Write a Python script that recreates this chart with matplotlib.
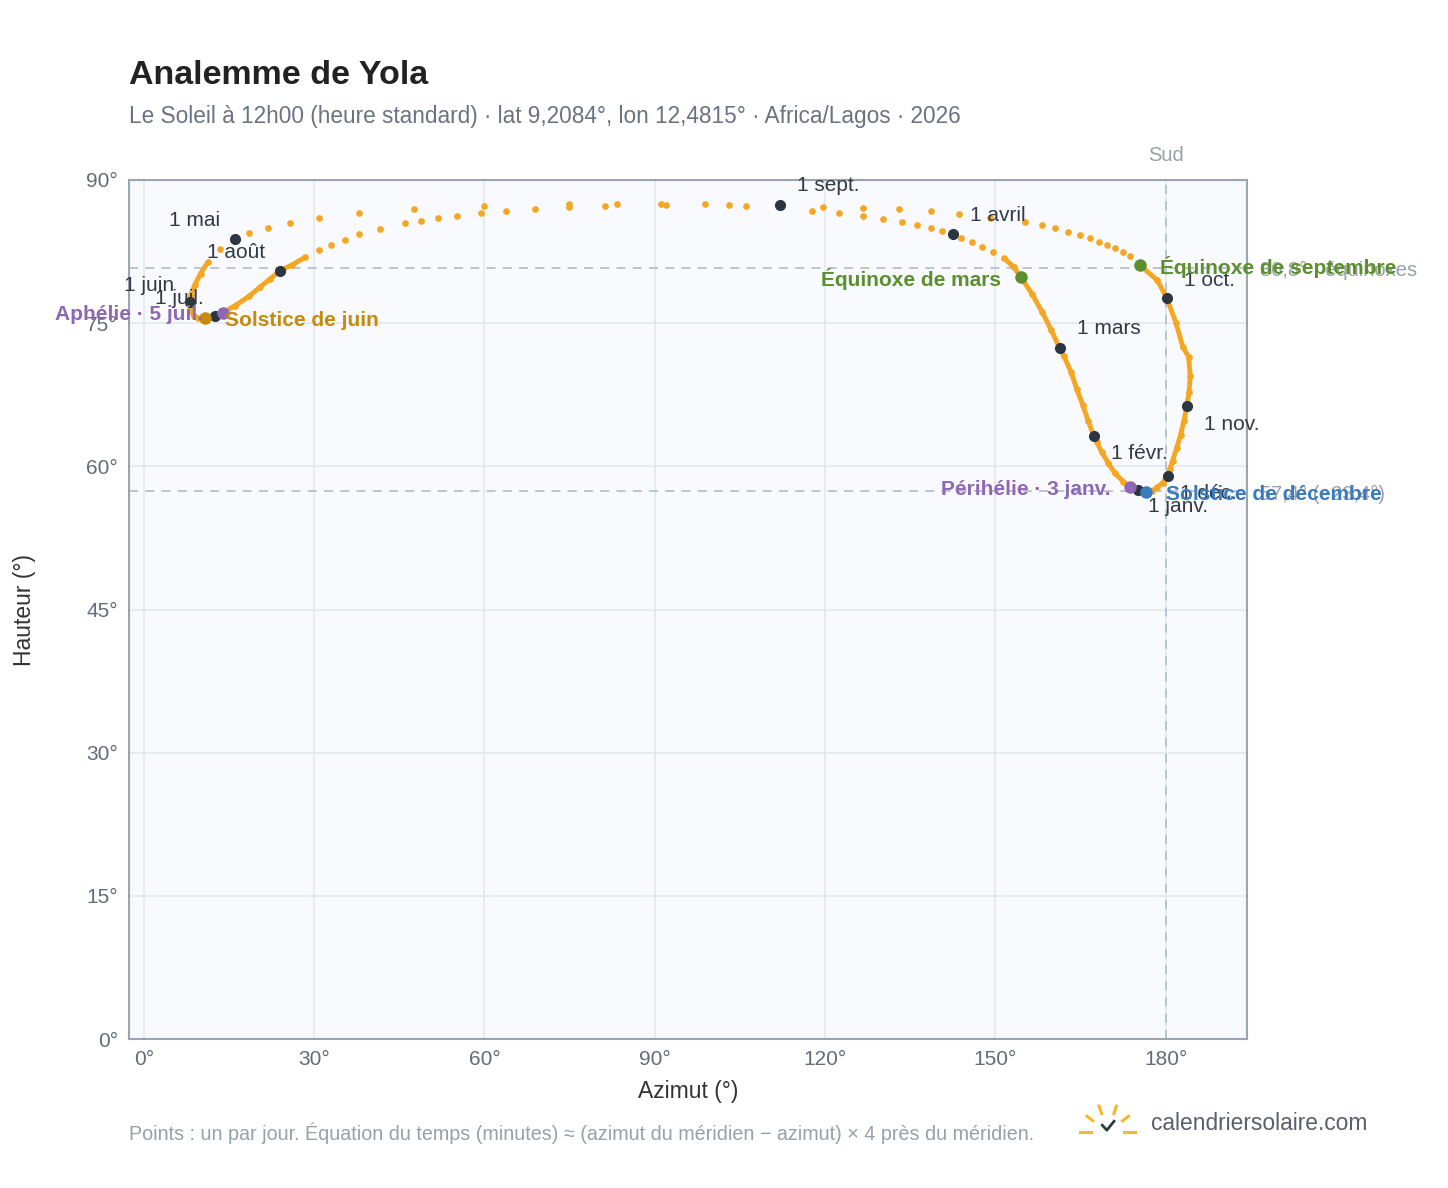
import matplotlib
matplotlib.use("Agg")
import matplotlib.pyplot as plt
import numpy as np

plt.rcParams['font.family'] = ['Liberation Sans', 'DejaVu Sans']

# Sun positions (azimuth, altitude), in date order from Jan 1 to Dec 31
azimuth = [175.1, 173.7, 172.5, 171.0, 169.8, 168.7, 167.8, 167.3, 166.3, 165.4, 164.3, 163.3, 162.0,
           161.3, 159.8, 158.2, 156.4, 154.5,
           153.2, 151.5, 149.5, 147.7, 145.8, 143.9, 142.5, 140.5, 138.6, 136.1, 133.5, 130.2, 126.6,
           122.4, 117.6, 106.0, 98.8, 91.1, 83.3, 74.9, 59.9, 47.6, 37.9, 30.8, 25.7, 21.8, 18.5,
           16.0, 13.5, 11.3, 10.0, 9.0, 8.3, 8.1, 8.2, 8.8, 9.6, 10.7, 11.7, 12.5, 13.9,
           16.0, 18.5, 20.5, 22.2, 24.0,
           26.1, 28.4, 30.8, 32.9, 35.4, 37.9, 41.6, 46.0, 48.8, 51.8, 55.1, 59.4, 63.8, 68.9, 74.9,
           81.2, 92.0, 103.0, 112.0,
           119.6, 126.6, 133.0, 138.6, 143.5, 149.0, 155.2, 158.2, 160.4, 162.7, 164.8, 166.6, 168.2,
           169.6, 171.0, 172.4, 173.7, 175.4,
           178.5, 180.2, 181.8, 183.0, 184.0, 184.3, 184.1, 183.7, 183.2,
           182.6, 181.9, 181.2, 180.7, 180.3, 179.5, 178.5, 177.5, 176.5, 175.8, 175.2]
altitude = [57.5, 57.8, 58.4, 59.3, 60.4, 61.5, 62.6, 63.2, 64.8, 66.4, 68.1, 69.9, 71.6,
            72.4, 74.3, 76.2, 78.1, 79.8,
            80.9, 81.8, 82.5, 83.0, 83.5, 83.9, 84.3, 84.7, 85.0, 85.3, 85.6, 85.9, 86.2,
            86.5, 86.8, 87.3, 87.5, 87.5, 87.5, 87.5, 87.3, 87.0, 86.5, 86.0, 85.5, 85.0, 84.4,
            83.8, 82.8, 81.4, 80.2, 79.0, 78.0, 77.2, 76.4, 75.8, 75.5, 75.5, 75.6, 75.8, 76.1,
            76.8, 77.8, 78.8, 79.6, 80.5,
            81.1, 81.9, 82.7, 83.2, 83.7, 84.3, 84.9, 85.5, 85.7, 86.0, 86.2, 86.5, 86.7, 87.0, 87.2,
            87.3, 87.4, 87.4, 87.4,
            87.2, 87.1, 87.0, 86.7, 86.4, 86.0, 85.6, 85.3, 85.0, 84.6, 84.2, 83.9, 83.5,
            83.2, 82.9, 82.5, 82.0, 81.1,
            79.5, 77.6, 75.0, 72.5, 71.5, 69.5, 67.8, 66.3, 64.8,
            63.3, 61.9, 60.6, 59.7, 59.0, 58.3, 57.8, 57.4, 57.3, 57.3, 57.5]

month_labels = ["1 janv.", "1 févr.", "1 mars", "1 avril", "1 mai", "1 juin", "1 juil.",
                "1 août", "1 sept.", "1 oct.", "1 nov.", "1 déc."]
month_az = [175.1, 167.3, 161.3, 142.5, 16.0, 8.1, 12.5, 24.0, 112.0, 180.2, 183.7, 180.3]
month_alt = [57.5, 63.2, 72.4, 84.3, 83.8, 77.2, 75.8, 80.5, 87.4, 77.6, 66.3, 59.0]
month_off = [(10, -16), (17, -18), (17, 19), (17, 19), (-66, 19), (-66, 17), (-60, 17),
             (-73, 18), (17, 19), (17, 18), (17, -18), (12, -18)]

events = ["Équinoxe de mars", "Équinoxe de septembre", "Solstice de juin", "Solstice de décembre",
          "Aphélie · 5 juil.", "Périhélie · 3 janv."]
event_az = [154.5, 175.4, 10.7, 176.5, 13.9, 173.7]
event_alt = [79.8, 81.1, 75.5, 57.3, 76.1, 57.8]
event_col = ["#5b8f2e", "#5b8f2e", "#c68a0d", "#3a7bc0", "#8e67b5", "#8e67b5"]
event_ha = ["right", "left", "left", "left", "right", "right"]

equinox_alt = 80.8
dec_solstice_alt = 57.4

fig = plt.figure(figsize=(14.48, 11.88), dpi=100)
ax = fig.add_axes([0.0891, 0.1254, 0.7721, 0.7231])
ax.set_facecolor("#f8fafd")
ax.set_xlim(-2.6, 194.3)
ax.set_ylim(0, 90)
ax.set_xticks(range(0, 181, 30))
ax.set_xticklabels([f"{v}°" for v in range(0, 181, 30)])
ax.set_yticks(range(0, 91, 15))
ax.set_yticklabels([f"{v}°" for v in range(0, 91, 15)])
ax.grid(color="#e3e8ee", lw=1.2)
ax.set_axisbelow(True)
for s in ax.spines.values():
    s.set_color("#9aa5b1"); s.set_linewidth(1.5)
ax.tick_params(colors="#666b75", labelsize=15, length=0, pad=8)
ax.set_xlabel("Azimut (°)", fontsize=16.5, color="#333", labelpad=8)
ax.set_ylabel("Hauteur (°)", fontsize=16.5, color="#333", labelpad=36)

ax.axhline(equinox_alt, color="#b7c0c9", ls=(0, (5, 4)), lw=1.3)
ax.axhline(dec_solstice_alt, color="#b7c0c9", ls=(0, (5, 4)), lw=1.3)
ax.axvline(180, color="#b7c0c9", ls=(0, (5, 4)), lw=1.3)
ax.text(180, 91.6, "Sud", ha="center", va="bottom", color="#9aa0a8", fontsize=14.5)
ax.text(196.5, equinox_alt - 0.3, "80,8° · équinoxes", ha="left", va="center", color="#9aa0a8", fontsize=14.5, clip_on=False)
ax.text(196.5, dec_solstice_alt - 0.3, "57,4° (−23,4°)", ha="left", va="center", color="#9aa0a8", fontsize=14.5, clip_on=False)

az = np.array(azimuth); al = np.array(altitude)
dense = al < 82
seg = []
for i in range(len(az)):
    if dense[i]:
        seg.append(i)
    else:
        if len(seg) > 1:
            ax.plot(az[seg], al[seg], color="#f5a623", lw=3.5, solid_capstyle="round", zorder=2)
        seg = []
if len(seg) > 1:
    ax.plot(az[seg], al[seg], color="#f5a623", lw=3.5, zorder=2)
ax.plot(az, al, "o", color="#f5a623", ms=3.8, zorder=3, ls="none")

ax.plot(month_az, month_alt, "o", color="#2d3540", ms=7, zorder=5, ls="none")
for lab, x, y, off in zip(month_labels, month_az, month_alt, month_off):
    ax.annotate(lab, (x, y), xytext=off, textcoords="offset pixels", fontsize=15, color="#333a44",
                ha="left", va="center", zorder=6, annotation_clip=False)

for lab, x, y, c, ha in zip(events, event_az, event_alt, event_col, event_ha):
    ax.plot(x, y, "o", color=c, ms=8, zorder=7)
    dx = 20 if ha == "left" else -20
    ax.annotate(lab, (x, y), xytext=(dx, -2), textcoords="offset pixels", fontsize=15,
                fontweight="bold", color=c, ha=ha, va="center", zorder=8, annotation_clip=False)

fig.text(0.0891, 1 - 84 / 1188, "Analemme de Yola", fontsize=24.5, fontweight="bold", color="#222")
fig.text(0.0891, 1 - 123 / 1188, "Le Soleil à 12h00 (heure standard) · lat 9,2084°, lon 12,4815° · Africa/Lagos · 2026",
         fontsize=16.3, color="#6b7280")
fig.text(0.0891, 1 - 1133 / 1188, "Points : un par jour. Équation du temps (minutes) ≈ (azimut du méridien − azimut) × 4 près du méridien.",
         fontsize=14.2, color="#9aa0a8", va="center")
fig.text(0.795, 1 - 1124 / 1188, "calendriersolaire.com", fontsize=16.4, color="#5a5f6b", va="center")

lax = fig.add_axes([0.745, 0.042, 0.04, 0.03])
lax.set_xlim(-1.6, 1.6); lax.set_ylim(-0.3, 1.5); lax.axis("off")
for ang in [0, 35, 70, 110, 145, 180]:
    a = np.radians(ang)
    lax.plot([1.0*np.cos(a), 1.4*np.cos(a)], [1.0*np.sin(a), 1.4*np.sin(a)], color="#f5b82e", lw=2.2)
lax.plot([-1.6, -0.9], [0, 0], color="#f5b82e", lw=2.2)
lax.plot([0.9, 1.6], [0, 0], color="#f5b82e", lw=2.2)
lax.plot([-0.3, -0.05, 0.35], [0.35, 0.1, 0.55], color="#2d3a4a", lw=2)

fig.savefig("out.png", dpi=100, facecolor="white")
